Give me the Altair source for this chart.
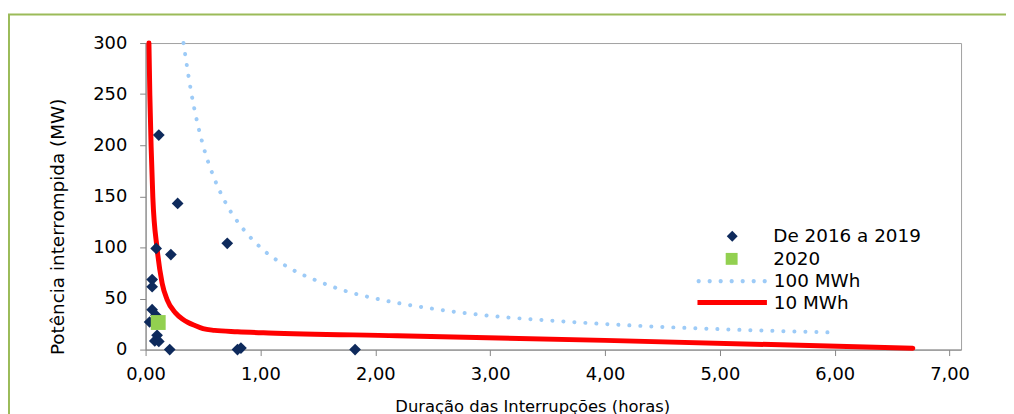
import altair as alt
import pandas as pd

# ---- data ----
hist_x = [0.115, 0.279, 0.092, 0.22, 0.711, 0.057, 0.057, 0.057, 0.09, 0.035, 0.10, 0.08, 0.115, 0.21, 0.80, 0.83, 1.824]
hist_y = [210, 143, 99, 93, 104, 68.5, 61.5, 39, 33.5, 27, 14, 8.5, 8, 0, 0, 1.5, 0]
y2020_x = [0.11]
y2020_y = [26.5]
mwh100_x = [0.33, 0.4, 0.5, 0.6, 0.7, 0.85, 1.0, 1.25, 1.5, 1.75, 2.0, 2.5, 3.0, 3.5, 4.0, 4.5, 5.0, 5.5, 6.0]
mwh100_y = [300, 250, 200, 167, 143, 118, 100, 80, 67, 57, 50, 40, 33, 28.6, 25, 22.2, 20, 18.2, 16.7]
mwh10_x = [0.029, 0.037, 0.048, 0.063, 0.10, 0.144, 0.187, 0.26, 0.32, 0.37, 0.43, 0.5, 0.6, 0.8, 1.07, 2.19, 4.0, 6.68]
mwh10_y = [300, 249, 199, 149, 99, 65, 49, 36, 30, 26.5, 23.5, 20.5, 18.8, 17.5, 16.3, 13.6, 9.0, 1.4]
x_ticks = [0, 1, 2, 3, 4, 5, 6, 7]
y_ticks = [0, 50, 100, 150, 200, 250, 300]
series_names = ["De 2016 a 2019", "2020", "100 MWh", "10 MWh"]

NAVY = "#0E2A5C"
GREEN = "#92D050"
LIGHTBLUE = "#9DCBF7"
RED = "#FF0000"
FONT = "DejaVu Sans"

hist = pd.DataFrame({"x": hist_x, "y": hist_y, "s": series_names[0]})
d2020 = pd.DataFrame({"x": y2020_x, "y": y2020_y, "s": series_names[1]})
d100 = pd.DataFrame({"x": mwh100_x, "y": mwh100_y, "s": series_names[2]})
d10 = pd.DataFrame({"x": mwh10_x, "y": mwh10_y, "s": series_names[3]})

X = alt.X(
    "x:Q",
    scale=alt.Scale(domain=[0, 7.1], nice=False, zero=True),
    axis=alt.Axis(
        values=x_ticks,
        labelExpr="replace(format(datum.value, '.2f'), '.', ',')",
        title="Duração das Interrupções (horas)",
        grid=False,
        domainColor="#868686",
        tickColor="#868686",
        tickSize=6,
        labelFont=FONT,
        labelFontSize=18,
        labelColor="#000000",
        labelPadding=10,
        labelFlush=False,
        titleFont=FONT,
        titleFontSize=16.5,
        titleFontWeight="normal",
        titleColor="#000000",
        titleBaseline="alphabetic",
        titleAlign="center",
        titleX=389.8,
        titleY=62,
    ),
)
Y = alt.Y(
    "y:Q",
    scale=alt.Scale(domain=[0, 300], nice=False),
    axis=alt.Axis(
        values=y_ticks,
        title="Potência interrompida (MW)",
        grid=False,
        domainColor="#868686",
        tickColor="#868686",
        tickSize=6,
        labelFont=FONT,
        labelFontSize=18,
        labelColor="#000000",
        labelPadding=13,
        labelFlush=False,
        titleFont=FONT,
        titleFontSize=18.5,
        titleFontWeight="normal",
        titleColor="#000000",
        titleBaseline="alphabetic",
        titleAlign="center",
        titleAngle=270,
        titleX=-83.2,
        titleY=184.8,
    ),
)


def leg(x, y, stype, ssize, offset, sw=0, dash=None, fill=None):
    kw = dict(
        orient="none",
        legendX=x,
        legendY=y,
        title=None,
        symbolType=stype,
        symbolSize=ssize,
        symbolStrokeWidth=sw,
        symbolOpacity=1,
        labelFont=FONT,
        labelFontSize=18.5,
        labelColor="#000000",
        labelOffset=offset,
        padding=0,
    )
    if dash is not None:
        kw["symbolDash"] = dash
    if fill is not None:
        kw["symbolFillColor"] = fill
    return alt.Legend(**kw)


# dotted legend symbol: 7 round dots along a 70px stroke (unit space scaled by 35)
_r = 0.06
_dots = []
for _c in [-0.951, -0.634, -0.317, 0.0, 0.317, 0.634, 0.951]:
    _dots.append(
        f"M{_c - _r:.3f},0a{_r},{_r} 0 1,0 {2 * _r:.3f},0a{_r},{_r} 0 1,0 {-2 * _r:.3f},0Z"
    )
DOT_PATH = "".join(_dots)

frame = alt.Chart(alt.Data(values=[{"f": 1}])).mark_rect(
    fill="transparent", stroke="#9BBB59", strokeWidth=2
).encode(
    x=alt.value(-137.7), x2=alt.value(900), y=alt.value(-28.7), y2=alt.value(400)
)

line100 = alt.Chart(d100).mark_line(
    strokeWidth=4, strokeDash=[0.1, 11], strokeCap="round", interpolate="monotone"
).encode(
    x=X, y=Y,
    color=alt.Color("s:N", scale=alt.Scale(domain=[series_names[2]], range=[LIGHTBLUE]),
                    legend=leg(555.8, 205.0, DOT_PATH, 4900, 7.5, sw=0, fill=LIGHTBLUE)),
)

line10 = alt.Chart(d10).mark_line(
    strokeWidth=5, strokeCap="round", interpolate="monotone"
).encode(
    x=X, y=Y,
    color=alt.Color("s:N", scale=alt.Scale(domain=[series_names[3]], range=[RED]),
                    legend=leg(553.8, 224.1, "stroke", 4900, 4.5, sw=5)),
)

pts_hist = alt.Chart(hist).mark_point(
    shape="diamond", filled=True, size=140, opacity=1
).encode(
    x=X, y=Y,
    color=alt.Color("s:N", scale=alt.Scale(domain=[series_names[0]], range=[NAVY]),
                    legend=leg(582.1, 185.5, "diamond", 121, 32.2)),
)

pts_2020 = alt.Chart(d2020).mark_point(
    shape="square", filled=True, size=225, opacity=1
).encode(
    x=X, y=Y,
    color=alt.Color("s:N", scale=alt.Scale(domain=[series_names[1]], range=[GREEN]),
                    legend=leg(581.5, 208.3, "square", 144, 32.8)),
)

chart = alt.layer(frame, line100, line10, pts_hist, pts_2020).resolve_scale(
    color="independent"
).resolve_legend(color="independent").properties(
    width=822,
    height=309,
    autosize=alt.AutoSizeParams(type="none"),
    padding={"left": 138.7, "top": 33.7, "right": 45.3, "bottom": 63.3},
    background="#FFFFFF",
).configure_view(stroke="#A0A0A0", strokeWidth=1)

chart.save("out.html", embed_options={"renderer": "svg", "actions": False})
